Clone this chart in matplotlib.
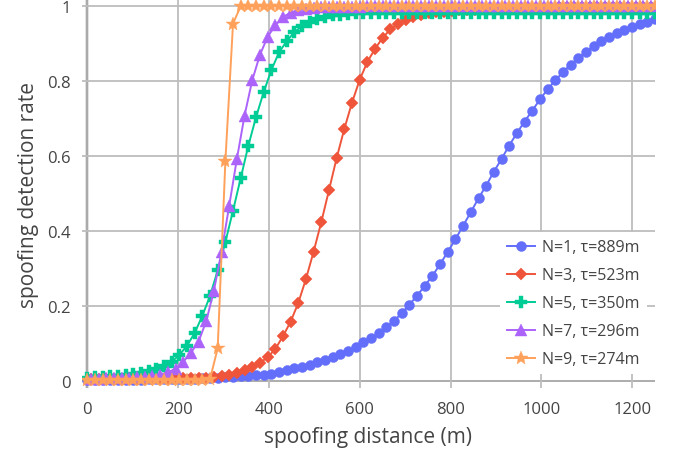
import numpy as np
import matplotlib
matplotlib.use("Agg")
import matplotlib.pyplot as plt

plt.rcParams['font.family'] = ['Open Sans', 'DejaVu Sans']

# spoofing distance grids (m)
dist = np.linspace(0, 1250, 75)
dist_mid = (dist[:-1] + dist[1:]) / 2

labels = ["N=1, τ=889m", "N=3, τ=523m", "N=5, τ=350m", "N=7, τ=296m", "N=9, τ=274m"]

rate_n1 = [
    0.001, 0.001, 0.001, 0.001, 0.002, 0.002, 0.002, 0.002, 0.003, 0.003,
    0.003, 0.004, 0.004, 0.005, 0.005, 0.006, 0.007, 0.008, 0.009, 0.010,
    0.011, 0.013, 0.014, 0.016, 0.018, 0.023, 0.028, 0.033, 0.037, 0.042,
    0.049, 0.055, 0.062, 0.071, 0.080, 0.090, 0.102, 0.114, 0.127, 0.142,
    0.160, 0.180, 0.203, 0.227, 0.253, 0.280, 0.311, 0.344, 0.378, 0.414,
    0.450, 0.487, 0.521, 0.558, 0.592, 0.628, 0.661, 0.692, 0.721, 0.751,
    0.778, 0.802, 0.824, 0.844, 0.861, 0.878, 0.893, 0.906, 0.918, 0.928,
    0.937, 0.944, 0.952, 0.959, 0.965,
]

rate_n3 = [
    0.004, 0.004, 0.004, 0.004, 0.004, 0.004, 0.005, 0.005, 0.005, 0.005,
    0.005, 0.006, 0.006, 0.006, 0.007, 0.008, 0.010, 0.012, 0.016, 0.021,
    0.028, 0.036, 0.047, 0.062, 0.084, 0.118, 0.157, 0.207, 0.271, 0.344,
    0.423, 0.508, 0.594, 0.672, 0.742, 0.803, 0.851, 0.886, 0.916, 0.938,
    0.953, 0.964, 0.972, 0.977, 0.981, 0.984, 0.986, 0.988, 0.989, 0.990,
    0.991, 0.992, 0.993, 0.993, 0.994, 0.994, 0.995, 0.995, 0.996, 0.996,
    0.996, 0.997, 0.997, 0.997, 0.997, 0.998, 0.998, 0.998, 0.998, 0.998,
    0.998, 0.999, 0.999, 0.999,
]

rate_n5 = [
    0.008, 0.009, 0.010, 0.011, 0.013, 0.015, 0.018, 0.021, 0.026, 0.032,
    0.039, 0.050, 0.068, 0.093, 0.127, 0.173, 0.226, 0.294, 0.370, 0.454,
    0.541, 0.628, 0.704, 0.771, 0.830, 0.877, 0.907, 0.931, 0.947, 0.958,
    0.966, 0.972, 0.976, 0.978, 0.980, 0.981, 0.982, 0.982, 0.983, 0.983,
    0.983, 0.983, 0.983, 0.983, 0.983, 0.983, 0.983, 0.983, 0.983, 0.983,
    0.983, 0.983, 0.983, 0.983, 0.983, 0.983, 0.983, 0.983, 0.983, 0.983,
    0.983, 0.983, 0.983, 0.983, 0.983, 0.983, 0.983, 0.983, 0.983, 0.983,
    0.983, 0.983, 0.983, 0.983, 0.983,
]

rate_n7 = [
    0.005, 0.005, 0.006, 0.006, 0.007, 0.008, 0.009, 0.010, 0.012, 0.016,
    0.022, 0.031, 0.050, 0.074, 0.104, 0.158, 0.240, 0.344, 0.467, 0.592,
    0.708, 0.802, 0.870, 0.918, 0.949, 0.971, 0.983, 0.990, 0.994, 0.996,
    0.997, 0.998, 0.998, 0.999, 0.999, 0.999, 1.0, 1.0, 1.0, 1.0,
    1.0, 1.0, 1.0, 1.0, 1.0, 1.0, 1.0, 1.0, 1.0, 1.0,
    1.0, 1.0, 1.0, 1.0, 1.0, 1.0, 1.0, 1.0, 1.0, 1.0,
    1.0, 1.0, 1.0, 1.0, 1.0, 1.0, 1.0, 1.0, 1.0, 1.0,
    1.0, 1.0, 1.0, 1.0,
]

rate_n9 = [
    0.002, 0.002, 0.002, 0.002, 0.002, 0.002, 0.002, 0.002, 0.002, 0.002,
    0.002, 0.002, 0.002, 0.002, 0.002, 0.002, 0.004, 0.086, 0.586, 0.954,
    1.0, 1.0, 1.0, 1.0, 1.0, 1.0, 1.0, 1.0, 1.0, 1.0,
    1.0, 1.0, 1.0, 1.0, 1.0, 1.0, 1.0, 1.0, 1.0, 1.0,
    1.0, 1.0, 1.0, 1.0, 1.0, 1.0, 1.0, 1.0, 1.0, 1.0,
    1.0, 1.0, 1.0, 1.0, 1.0, 1.0, 1.0, 1.0, 1.0, 1.0,
    1.0, 1.0, 1.0, 1.0, 1.0, 1.0, 1.0, 1.0, 1.0, 1.0,
    1.0, 1.0, 1.0, 1.0, 1.0,
]

series = [
    (dist, rate_n1, '#636efa', 'o', 7.2),
    (dist_mid, rate_n3, '#ef553b', 'D', 6.2),
    (dist, rate_n5, '#00cc96', 'P', 8.5),
    (dist_mid, rate_n7, '#ab63fa', '^', 8.0),
    (dist, rate_n9, '#ffa15a', '*', 10.0),
]

fig = plt.figure(figsize=(6.78, 4.6), dpi=100)
ax = fig.add_axes([0.1205, 0.1543, 0.8455, 0.8457])

for (xs, ys, col, mk, ms), lab in zip(series, labels):
    ax.plot(xs, ys, color=col, lw=1.4, marker=mk, ms=ms, mec=col, mew=0.3,
            label=lab, zorder=3)

ax.set_xlim(-12.3, 1250)
ax.set_ylim(-0.0201, 1.0195)
ax.set_xticks([0, 200, 400, 600, 800, 1000, 1200])
ax.set_yticks([0, 0.2, 0.4, 0.6, 0.8, 1])
ax.set_yticklabels(['0', '0.2', '0.4', '0.6', '0.8', '1'])
ax.grid(True, color='#bdbdbd', lw=1.3, zorder=0)
ax.axhline(0, color='black', lw=1.2, zorder=1)
ax.axvline(0, color='black', lw=1.6, zorder=1)
for s in ax.spines.values():
    s.set_visible(False)
ax.tick_params(length=0, labelsize=12, labelcolor='#444444', pad=8)
ax.tick_params(axis='x', pad=9)

ax.set_xlabel('spoofing distance (m)', fontsize=15, color='#444444', labelpad=7)
ax.set_ylabel('spoofing detection rate', fontsize=15, color='#444444', labelpad=6)

leg = ax.legend(loc='upper left', bbox_to_anchor=(500 / 678, 1 - 233 / 460),
                bbox_transform=fig.transFigure, borderaxespad=0, frameon=True,
                fancybox=False, framealpha=1, facecolor='white', edgecolor='none',
                fontsize=11.5, handlelength=1.75, handletextpad=0.45,
                labelspacing=0.75, borderpad=0.45, numpoints=1)
for t in leg.get_texts():
    t.set_color('#444444')

fig.savefig('out.png', dpi=100)
